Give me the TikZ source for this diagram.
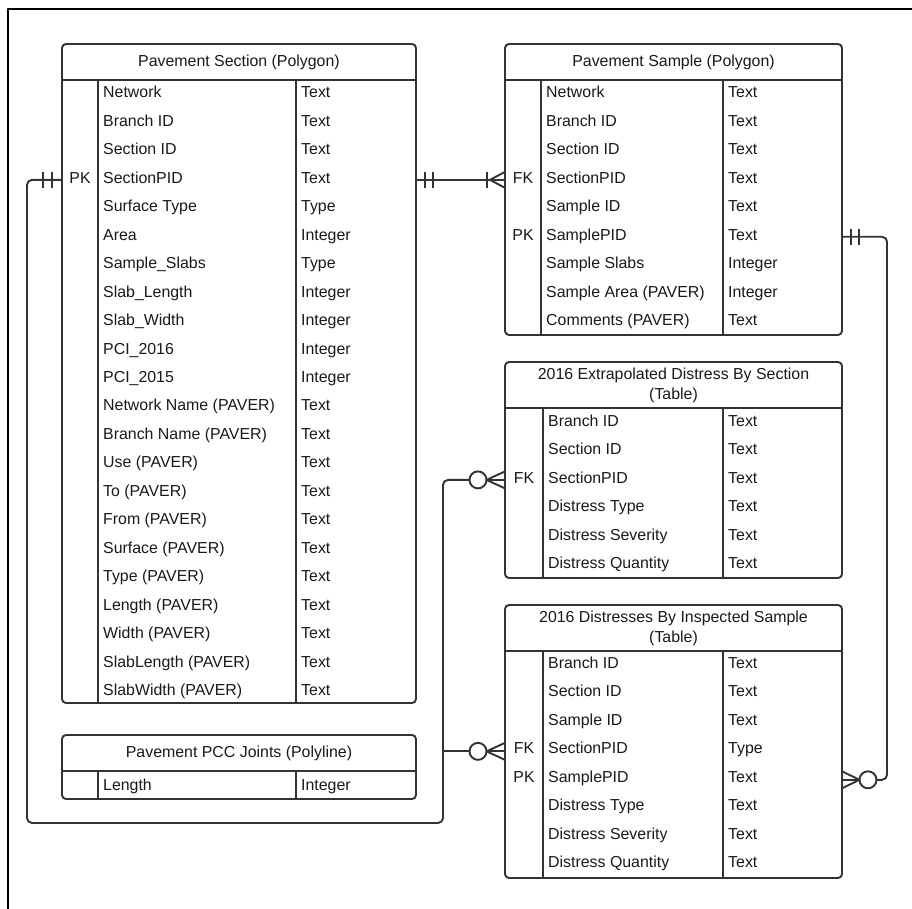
\documentclass[tikz,border=0pt]{standalone}
\usepackage{fontspec}
\setmainfont{Liberation Sans}
\usetikzlibrary{positioning}

\begin{document}
\begin{tikzpicture}[
      x=1pt, y=-1pt,
      line join=round,
      tbl/.style={draw=black!80, line width=1.9pt, rounded corners=4pt, inner sep=0pt,
                  outer sep=0pt, anchor=north west},
      rule/.style={draw=black!80, line width=1.9pt},
      title/.style={font=\fontsize{15.9}{20}\selectfont, align=center, text=black!90},
      field/.style={font=\fontsize{15.9}{18}\selectfont, anchor=west, inner sep=0pt,
                    text height=11pt, text depth=0pt, text=black!90},
      keyf/.style={field, anchor=center},
      conn/.style={draw=black!80, line width=1.9pt, rounded corners=5pt},
      foot/.style={draw=black!80, line width=1.9pt},
    ]
    \useasboundingbox (0,0) rectangle (912,909);
    \draw[line width=2pt] (8,909) |- (912,9);

    % Pavement Section
    \node[tbl, minimum width=354pt, minimum height=659pt] (sec) at (62,44) {};
    \node[title] (sec-t) at (239,62) {Pavement Section (Polygon)};
    \draw[rule] (62,80) -- (416,80);
    \draw[rule] (98,80) -- (98,703);
    \draw[rule] (296,80) -- (296,703);
    \foreach \fname/\ftype [count=\i] in {Network/Text, Branch ID/Text, Section ID/Text,
        SectionPID/Text, Surface Type/Type, Area/Integer, Sample\_Slabs/Type,
        Slab\_Length/Integer, Slab\_Width/Integer, PCI\_2016/Integer, PCI\_2015/Integer,
        Network Name (PAVER)/Text, Branch Name (PAVER)/Text, Use (PAVER)/Text,
        To (PAVER)/Text, From (PAVER)/Text, Surface (PAVER)/Text, Type (PAVER)/Text,
        Length (PAVER)/Text, Width (PAVER)/Text, SlabLength (PAVER)/Text,
        SlabWidth (PAVER)/Text} {
      \node[field] (sec-\i) at (103,{92.5+28.45*(\i-1)}) {\fname};
      \node[field] (sec-ty\i) at (301,{92.5+28.45*(\i-1)}) {\ftype};
    }
    \node[keyf] (sec-pk) at (80,177.85) {PK};

    % Pavement Sample
    \node[tbl, minimum width=337pt, minimum height=291pt] (samp) at (505,44) {};
    \node[title] (samp-t) at (673.5,62) {Pavement Sample (Polygon)};
    \draw[rule] (505,80) -- (842,80);
    \draw[rule] (541,80) -- (541,335);
    \draw[rule] (723,80) -- (723,335);
    \foreach \fname/\ftype [count=\i] in {Network/Text, Branch ID/Text, Section ID/Text,
        SectionPID/Text, Sample ID/Text, SamplePID/Text, Sample Slabs/Integer,
        Sample Area (PAVER)/Integer, Comments (PAVER)/Text} {
      \node[field] (samp-\i) at (546,{92.5+28.45*(\i-1)}) {\fname};
      \node[field] (samp-ty\i) at (728,{92.5+28.45*(\i-1)}) {\ftype};
    }
    \node[keyf] (samp-fk) at (523,177.85) {FK};
    \node[keyf] (samp-pk) at (523,234.75) {PK};

    % 2016 Extrapolated Distress By Section
    \node[tbl, minimum width=337pt, minimum height=216pt] (ext) at (505,362) {};
    \node[title] (ext-t) at (673.5,385) {2016 Extrapolated Distress By Section\\(Table)};
    \draw[rule] (505,408) -- (842,408);
    \draw[rule] (543,408) -- (543,578);
    \draw[rule] (723,408) -- (723,578);
    \foreach \fname/\ftype [count=\i] in {Branch ID/Text, Section ID/Text, SectionPID/Text,
        Distress Type/Text, Distress Severity/Text, Distress Quantity/Text} {
      \node[field] (ext-\i) at (548,{421+28.45*(\i-1)}) {\fname};
      \node[field] (ext-ty\i) at (728,{421+28.45*(\i-1)}) {\ftype};
    }
    \node[keyf] (ext-fk) at (524,477.9) {FK};

    % 2016 Distresses By Inspected Sample
    \node[tbl, minimum width=337pt, minimum height=273pt] (insp) at (505,605) {};
    \node[title] (insp-t) at (673.5,628) {2016 Distresses By Inspected Sample\\(Table)};
    \draw[rule] (505,651) -- (842,651);
    \draw[rule] (543,651) -- (543,878);
    \draw[rule] (723,651) -- (723,878);
    \foreach \fname/\ftype [count=\i] in {Branch ID/Text, Section ID/Text, Sample ID/Text,
        SectionPID/Type, SamplePID/Text, Distress Type/Text, Distress Severity/Text,
        Distress Quantity/Text} {
      \node[field] (insp-\i) at (548,{663+28.45*(\i-1)}) {\fname};
      \node[field] (insp-ty\i) at (728,{663+28.45*(\i-1)}) {\ftype};
    }
    \node[keyf] (insp-fk) at (524,748.35) {FK};
    \node[keyf] (insp-pk) at (524,776.8) {PK};

    % Pavement PCC Joints
    \node[tbl, minimum width=354pt, minimum height=64pt] (pcc) at (62,735) {};
    \node[title] (pcc-t) at (239,753) {Pavement PCC Joints (Polyline)};
    \draw[rule] (62,771) -- (416,771);
    \draw[rule] (98,771) -- (98,799);
    \draw[rule] (296,771) -- (296,799);
    \node[field] (pcc-1) at (103,785) {Length};
    \node[field] (pcc-ty1) at (301,785) {Integer};

    % section -> sample (one to one-or-many)
    \coordinate (a0) at ([yshift=-2pt]sec.east |- sec-4);
    \coordinate (a1) at ([yshift=-2pt]samp.west |- samp-4);
    \draw[conn] (a0) -- (a1);
    \draw[foot] ([xshift=9pt]a0) ++(0,-8) -- ++(0,16);
    \draw[foot] ([xshift=17pt]a0) ++(0,-8) -- ++(0,16);
    \draw[foot] ([xshift=-18pt]a1) ++(0,-8) -- ++(0,16);
    \draw[foot] (a1) ++(0,-8) -- ++(-15,8) -- ++(15,8);

    % sample -> inspected sample (one to zero-or-many)
    \coordinate (b0) at ([yshift=-2pt]samp.east |- samp-6);
    \coordinate (b1) at ([yshift=-3pt]insp.east |- insp-5);
    \draw[conn] (b0) -| ([xshift=45pt]b1) -- ([xshift=34.5pt]b1);
    \draw[foot] ([xshift=9pt]b0) ++(0,-8) -- ++(0,16);
    \draw[foot] ([xshift=17pt]b0) ++(0,-8) -- ++(0,16);
    \draw[foot] ([xshift=26pt]b1) circle[radius=8.5pt];
    \draw[foot] ([xshift=17.5pt]b1) -- (b1);
    \draw[foot] ([yshift=8.5pt]b1) -- ([xshift=17.5pt]b1) -- ([yshift=-8.5pt]b1);

    % section -> extrapolated distress (one to zero-or-many)
    \coordinate (c0) at ([yshift=-2pt]sec.west |- sec-4);
    \coordinate (c1) at ([yshift=-2pt]ext.west |- ext-3);
    \draw[conn] (c0) -| (27,823) -| ([xshift=-62pt]c1) -- ([xshift=-35.5pt]c1);
    \draw[foot] ([xshift=-10pt]c0) ++(0,-8) -- ++(0,16);
    \draw[foot] ([xshift=-19pt]c0) ++(0,-8) -- ++(0,16);
    \draw[foot] ([xshift=-27pt]c1) circle[radius=8.5pt];
    \draw[foot] ([xshift=-18.5pt]c1) -- (c1);
    \draw[foot] ([yshift=8.5pt]c1) -- ([xshift=-18.5pt]c1) -- ([yshift=-8.5pt]c1);

    % section -> inspected sample (one to zero-or-many)
    \coordinate (d1) at ([yshift=-3pt]insp.west |- insp-4);
    \coordinate (d0) at ([xshift=-62pt]d1);
    \draw[conn] (d0) -- ([xshift=-35.5pt]d1);
    \draw[foot] ([xshift=-27pt]d1) circle[radius=8.5pt];
    \draw[foot] ([xshift=-18.5pt]d1) -- (d1);
    \draw[foot] ([yshift=8.5pt]d1) -- ([xshift=-18.5pt]d1) -- ([yshift=-8.5pt]d1);
  \end{tikzpicture}
\end{document}
